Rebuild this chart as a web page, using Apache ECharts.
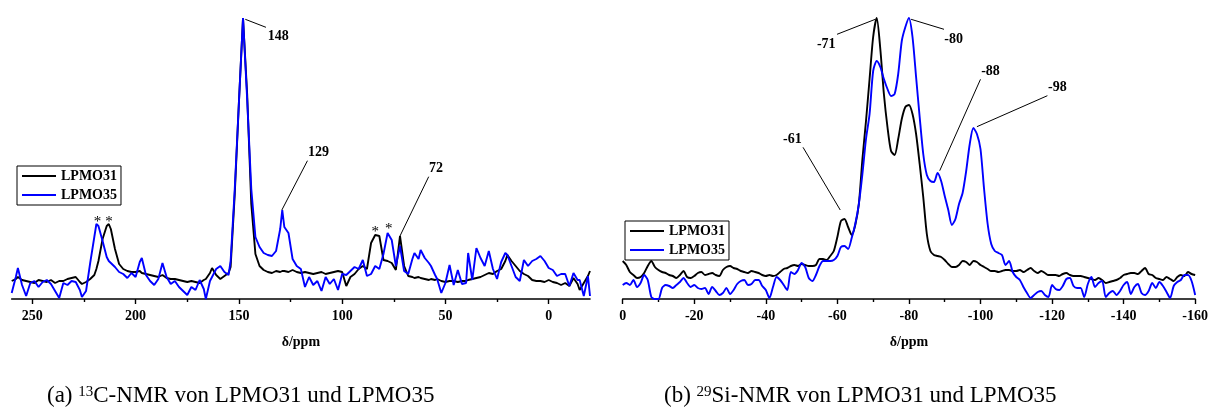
<!DOCTYPE html>
<html><head><meta charset="utf-8">
<script src="https://cdn.jsdelivr.net/npm/echarts@6/dist/echarts.min.js"></script>
<style>html,body{margin:0;padding:0;background:#fff}#chart{width:1211px;height:415px}</style>
</head><body><div id="chart"></div>
<script>
// ---------- (a) 13C-NMR ----------
const c13_ppm = [260,258,257,255,253,251,249,247,245,243,241,239,237,235,233,231,229,227,226,224,222,220,219,218,216,214,213,212,210,208,206,204,202,200,198,197,195,193,191,189,187,185,183,181,179,177,175,173,171,169,167,166,164,163,161,159,157,155,154,152,150,148,146,144,142,140,138,136,134,132,130,129,128,126,124,122,120,118,116,114,112,110,108,106,104,102,100,98,96,94,92,90,88,86,84,82,80,78,76,74,72,70,68,66,65,63,62,60,58,57,55,54,52,50,48,46,44,42,40,39,37,35,33,31,29,27,25,23,21,20,18,16,14,12,10,8,6,4,2,0,-2,-4,-6,-8,-10,-12,-14,-15,-17,-19,-20];
const c13_lpmo31 = [18,20,22,19,18,17,16,19,18,17,19,16,18,18,20,21,22,17,15,17,20,24,30,38,60,73,75,70,50,35,30,28,27,27,28,26,25,24,23,22,24,21,20,20,19,18,17,18,17,16,19,20,26,31,24,20,23,26,32,105,196,281,205,95,45,33,29,27,26,28,27,28,28,27,29,27,26,27,26,25,26,27,25,26,27,28,27,13,22,25,30,33,30,56,64,63,39,38,36,29,63,33,23,22,21,22,21,20,19,20,19,20,18,17,18,18,17,18,18,19,20,21,22,24,26,25,28,30,38,44,38,33,28,25,23,19,18,18,17,19,17,16,14,16,13,21,15,9,16,23,28];
const c13_lpmo35 = [6,22,31,14,3,16,18,12,17,19,15,8,1,16,14,18,17,9,2,8,36,62,75,73,58,42,38,36,32,27,25,21,26,22,37,41,24,18,14,20,36,22,15,18,12,8,4,12,9,19,10,0,18,22,30,33,27,24,38,110,196,281,200,110,62,52,46,44,43,48,70,89,72,66,40,33,30,12,22,14,18,8,22,15,20,9,25,24,28,32,30,39,23,25,33,30,45,66,59,33,53,28,25,40,46,40,49,41,36,33,24,20,6,16,34,14,29,15,16,46,19,51,41,33,48,30,20,37,46,44,33,22,18,39,33,38,40,43,38,31,29,23,25,25,13,26,19,19,3,23,3];
const c13_major = [250,200,150,100,50,0];
const c13_minor = [225,175,125,75,25];
// [text, ppm, intensity]
const c13_labels = [['148',131.0,263],['129',111.4,146.7],['72',54.6,130.7]];
const c13_leaders = [[[146.9,279.7],[136.9,271.7]],[[116.8,138.3],[129.2,89]],[[58.1,122.3],[72,63]]];
const c13_stars = [[218.5,77],[212.9,77],[84,67],[77.5,69.5]];

// ---------- (b) 29Si-NMR ----------
const si29_ppm = [0,-1,-2,-3,-4,-5,-6,-7,-8,-9,-10,-11,-12,-13,-14,-15,-16,-17,-18,-19,-20,-21,-22,-23,-24,-25,-26,-27,-28,-29,-30,-31,-32,-33,-34,-35,-36,-37,-38,-39,-40,-41,-42,-43,-44,-45,-46,-47,-48,-49,-50,-51,-52,-53,-54,-55,-56,-57,-58,-59,-60,-61,-62,-63,-64,-65,-66,-67,-68,-69,-70,-71,-72,-73,-74,-75,-76,-77,-78,-79,-80,-81,-82,-83,-84,-85,-86,-87,-88,-89,-90,-91,-92,-93,-94,-95,-96,-97,-98,-99,-100,-101,-102,-103,-104,-105,-106,-107,-108,-109,-110,-111,-112,-113,-114,-115,-116,-117,-118,-119,-120,-121,-122,-123,-124,-125,-126,-127,-128,-129,-130,-131,-132,-133,-134,-135,-136,-137,-138,-139,-140,-141,-142,-143,-144,-145,-146,-147,-148,-149,-150,-151,-152,-153,-154,-155,-156,-157,-158,-159,-160];
const si29_lpmo31 = [38,34,27,24,21,22,26,33,38,32, 29,27,26,24,23,21,24,28,22,21, 23,26,27,24,25,26,24,23,29,32, 33,31,30,28,27,26,28,27,26,24, 23,24,23,24,27,30,31,33,34,33, 35,34,33,33,34,40,40,39,43,48, 62,78,80,72,64,74,95,140,178,220, 262,281,250,205,172,148,144,160,180,192, 194,185,165,135,102,65,48,44,43,42, 39,35,32,32,34,38,37,34,38,37, 34,32,30,28,28,27,28,29,29,28, 28,29,27,29,31,28,26,28,26,24, 24,24,23,25,26,24,23,23,23,22, 21,20,19,21,19,16,17,18,19,21, 24,25,26,26,25,28,31,25,24,21, 20,19,22,20,18,22,24,23,27,25,24];
const si29_lpmo35 = [14,16,14,19,12,16,24,19,2,0, 0,11,14,13,11,14,17,21,16,12, 14,11,10,11,5,12,8,4,6,11, 5,9,15,18,19,14,15,19,19,13, 9,1,12,22,19,14,9,27,25,29, 36,32,21,18,24,33,38,38,38,39, 43,52,53,50,61,75,95,125,160,185, 228,238,232,220,210,203,205,225,258,272, 281,262,222,182,145,124,118,117,126,118, 103,89,74,80,95,106,128,155,171,165, 150,110,75,55,48,46,44,34,38,27, 22,19,12,6,1,4,7,8,4,2, 14,10,9,13,20,21,13,11,11,2, 15,22,12,16,18,2,6,8,4,8, 14,17,5,12,15,6,4,8,16,11, 17,13,7,1,13,17,19,24,24,18,4];
const si29_labels = [['-71',-56.9,255],['-80',-92.5,260],['-88',-102.8,227.3],['-98',-121.5,211.7],['-61',-47.4,159.7]];
const si29_leaders = [[[-70.6,279.7],[-59.9,264.7]],[[-80.6,279.7],[-89.8,269.7]],[[-100,219.7],[-88.6,128.3]],[[-118.7,203.3],[-99,172.3]],[[-50.4,151.7],[-60.8,89]]];

const series_names = ['LPMO31','LPMO35'];
const captions = ['(a) {sup|13}C-NMR von LPMO31 und LPMO35','(b) {sup|29}Si-NMR von LPMO31 und LPMO35'];

const FONT = "'Liberation Serif','Times New Roman',serif";
const BLK = '#000000', BLU = '#0000ff';
const zip = (xs, ys) => xs.map((x, i) => [x, ys[i]]);
const boldText = {color:'#000', fontFamily:FONT, fontWeight:'bold', fontSize:14};
// thin horizontal line icon (bbox padded to the full icon height)
const LINE_ICON = 'path://M0,0L0,0Z M0,6L34,6L34,8L0,8Z M34,14L34,14Z';

function mainAxis(grid, min, max, extra) {
  return Object.assign({
    gridIndex: grid, type:'value', min:min, max:max, inverse:true, position:'bottom',
    axisLine:{show:true, onZero:false, lineStyle:{color:'#000', width:1.6}},
    axisTick:{show:true, length:5, lineStyle:{color:'#000', width:1.4}},
    axisLabel:Object.assign({margin:10, showMinLabel:true, showMaxLabel:true}, boldText),
    splitLine:{show:false},
    name:'δ/ppm', nameLocation:'middle', nameGap:36,
    nameTextStyle:Object.assign({}, boldText)
  }, extra);
}

const chart = echarts.init(document.getElementById('chart'), null, {renderer:'canvas'});

function lineSeries(name, color, xi, yi, data, smooth) {
  return {type:'line', name:name, xAxisIndex:xi, yAxisIndex:yi, data:data, symbol:'none', showSymbol:false,
    smooth:smooth, clip:false, color:color, lineStyle:{color:color, width:1.9}, emphasis:{disabled:true}, silent:true, z:3};
}
function labelSeries(xi, yi, items, font) {
  return {type:'scatter', xAxisIndex:xi, yAxisIndex:yi, symbolSize:1, silent:true,
    data:items.map(l => ({name:l[0], value:[l[1], l[2]]})),
    itemStyle:{color:'transparent', opacity:1}, emphasis:{disabled:true}, z:5,
    label:Object.assign({show:true, position:'inside', opacity:1, formatter:p => p.name}, font)};
}
function leaderSeries(xi, yi, pairs) {
  return {type:'lines', coordinateSystem:'cartesian2d', xAxisIndex:xi, yAxisIndex:yi, silent:true, z:4,
    data:pairs.map(c => ({coords:c})), lineStyle:{color:'#000', width:1, opacity:1, curveness:0}, effect:{show:false}};
}

const legendBase = {orient:'vertical', data:series_names.map(n => ({name:n, icon:LINE_ICON})),
  itemWidth:34, itemHeight:14, itemGap:5,
  padding:[3,4,3,5], borderColor:'#000', borderWidth:1, backgroundColor:'#fff', borderRadius:0,
  textStyle:Object.assign({}, boldText), selectedMode:false, z:10};

chart.setOption({
  animation:false,
  backgroundColor:'#fff',
  grid:[
    {left:11.7, right:1211-590, top:18, bottom:415-299, containLabel:false},
    {left:622.7, right:1211-1198.3, top:18, bottom:415-299, containLabel:false}
  ],
  legend:[
    Object.assign({left:17, top:166}, legendBase),
    Object.assign({left:625, top:221}, legendBase)
  ],
  xAxis:[
    mainAxis(0, -20, 260, {axisTick:{show:true, customValues:c13_major, length:5, lineStyle:{color:'#000', width:1.4}},
      axisLabel:Object.assign({margin:10, customValues:c13_major}, boldText)}),
    {gridIndex:0, type:'value', min:-20, max:260, inverse:true, position:'bottom',
      axisLine:{show:false}, axisLabel:{show:false}, splitLine:{show:false},
      axisTick:{show:true, customValues:c13_minor, length:3, lineStyle:{color:'#000', width:1.4}}},
    mainAxis(1, -160, 0, {interval:20, minorTick:{show:true, splitNumber:2, length:3, lineStyle:{color:'#000', width:1.4}}})
  ],
  yAxis:[
    {gridIndex:0, type:'value', min:0, max:281, show:false},
    {gridIndex:1, type:'value', min:0, max:281, show:false}
  ],
  series:[
    lineSeries(series_names[0], BLK, 0, 0, zip(c13_ppm, c13_lpmo31), false),
    lineSeries(series_names[1], BLU, 0, 0, zip(c13_ppm, c13_lpmo35), false),
    leaderSeries(0, 0, c13_leaders),
    labelSeries(0, 0, c13_labels, boldText),
    labelSeries(0, 0, c13_stars.map(s => ['*', s[0], s[1]]), {color:'#000', fontFamily:FONT, fontSize:15}),
    lineSeries(series_names[0], BLK, 2, 1, zip(si29_ppm, si29_lpmo31), 0.25),
    lineSeries(series_names[1], BLU, 2, 1, zip(si29_ppm, si29_lpmo35), 0.25),
    leaderSeries(2, 1, si29_leaders),
    labelSeries(2, 1, si29_labels, boldText)
  ],
  graphic:[
    {type:'text', x:47, y:396, style:{text:captions[0], fill:'#000', font:'23px ' + FONT,
      align:'left', verticalAlign:'middle', rich:{sup:{fontSize:15, fontFamily:FONT, verticalAlign:'top', padding:[0,0,8,0]}}}},
    {type:'text', x:664, y:396, style:{text:captions[1], fill:'#000', font:'23px ' + FONT,
      align:'left', verticalAlign:'middle', rich:{sup:{fontSize:15, fontFamily:FONT, verticalAlign:'top', padding:[0,0,8,0]}}}}
  ]
});
</script></body></html>
